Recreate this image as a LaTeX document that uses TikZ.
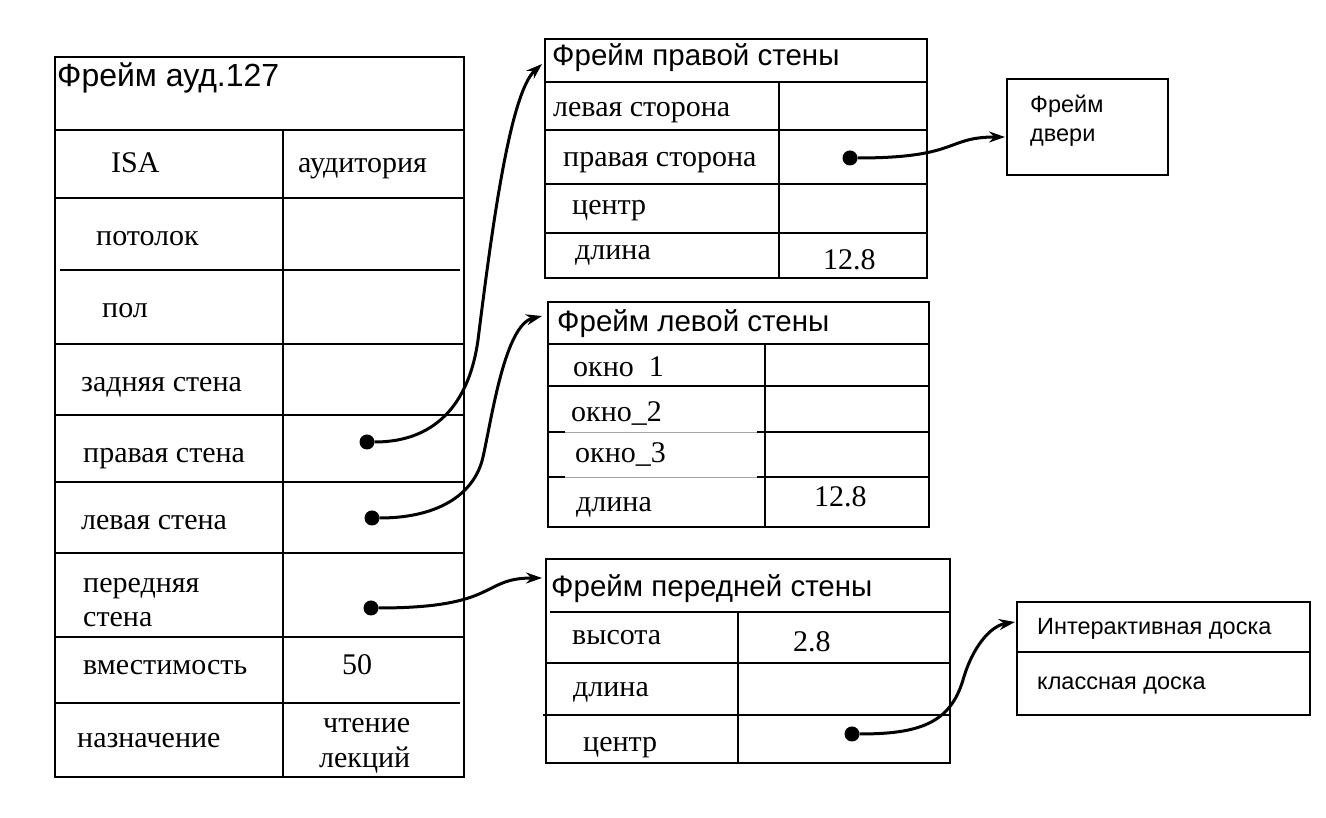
\documentclass[tikz,border=0pt]{standalone}
\usepackage{fontspec}
\setmainfont{Liberation Serif}
\setsansfont{Liberation Sans}
\usepackage{tikz}
\usetikzlibrary{arrows.meta}

\begin{document}
\begin{tikzpicture}[x=1pt,y=1pt]
            \pgfmathsetmacro{\hh}{818}
            \tikzstyle{tableLine}=[line width=2.2pt]
            \tikzstyle{thinLine}=[line width=0.8pt, gray!70]
            \tikzstyle{slot}=[anchor=base west, inner sep=0pt, font=\fontsize{30}{34}\selectfont]
            \tikzstyle{head}=[anchor=base west, inner sep=0pt, font=\sffamily\fontsize{29.5}{34}\selectfont]
            \tikzstyle{note}=[anchor=base west, inner sep=0pt, font=\sffamily\fontsize{23.5}{27}\selectfont]
            \tikzstyle{slotDot}=[circle, fill, inner sep=0pt, minimum size=15pt]
            \tikzstyle{link}=[line width=3pt, -{Stealth[length=16pt,width=11pt]}]

            \useasboundingbox (0,0) rectangle (1326,\hh);

            %%%%%%%%%%%%%%%%%%%%%%%%%%%%%%%%%%%%%%%%
            % frame of the room
            \draw[tableLine] (55,\hh-57) rectangle (464,\hh-777);
            \draw[tableLine] (55,\hh-130) -- (464,\hh-130);
            \draw[tableLine] (283,\hh-130) -- (283,\hh-777);
            \foreach \y in {198,344,415,482,553,637}
                \draw[tableLine] (55,\hh-\y) -- (464,\hh-\y);
            \draw[tableLine] (60,\hh-270) -- (460,\hh-270);
            \draw[tableLine] (54,\hh-703) -- (460,\hh-703);

            \node (audTitle) [head, font=\sffamily\fontsize{32}{36}\selectfont] at (57,\hh-87) {Фрейм ауд.127};
            \node (audIsa) [slot] at (111,\hh-173) {ISA};
            \node (audIsaVal) [slot] at (298,\hh-173) {аудитория};
            \node (audCeil) [slot] at (96,\hh-246) {потолок};
            \node (audFloor) [slot] at (102,\hh-318) {пол};
            \node (audBack) [slot] at (81,\hh-392) {задняя стена};
            \node (audRight) [slot] at (83,\hh-463) {правая стена};
            \node (audLeft) [slot] at (81,\hh-530) {левая стена};
            \node (audFront) [slot] at (83,\hh-593) {передняя};
            \node (audFront2) [slot] at (83,\hh-627) {стена};
            \node (audSeats) [slot] at (83,\hh-675) {вместимость};
            \node (audSeatsVal) [slot] at (342,\hh-675) {50};
            \node (audUse) [slot] at (77,\hh-748) {назначение};
            \node (audUseVal) [slot] at (323,\hh-733) {чтение};
            \node (audUseVal2) [slot] at (319,\hh-768) {лекций};

            \node (dotRight) [slotDot] at (367,\hh-442) {};
            \node (dotLeft) [slotDot] at (372,\hh-518) {};
            \node (dotFront) [slotDot] at (371,\hh-608) {};

            %%%%%%%%%%%%%%%%%%%%%%%%%%%%%%%%%%%%%%%%
            % frame of the right wall
            \draw[tableLine] (545,\hh-39) rectangle (927,\hh-278);
            \foreach \y in {82,130,184,233}
                \draw[tableLine] (545,\hh-\y) -- (927,\hh-\y);
            \draw[tableLine] (779,\hh-82) -- (779,\hh-278);

            \node (rightTitle) [head] at (552,\hh-66) {Фрейм правой стены};
            \node (rightLside) [slot] at (553,\hh-117) {левая сторона};
            \node (rightRside) [slot] at (563,\hh-167) {правая сторона};
            \node (rightCenter) [slot] at (572,\hh-215) {центр};
            \node (rightLen) [slot] at (575,\hh-260) {длина};
            \node (rightLenVal) [slot] at (823,\hh-270) {12.8};
            \node (dotDoor) [slotDot] at (850,\hh-158) {};
            \coordinate (rightIn) at (542,\hh-64);

            % door
            \draw[tableLine] (1007,\hh-79) rectangle (1168,\hh-175);
            \node (doorA) [note] at (1030,\hh-113) {Фрейм};
            \node (doorB) [note] at (1030,\hh-142) {двери};
            \coordinate (doorIn) at (1005,\hh-137);

            %%%%%%%%%%%%%%%%%%%%%%%%%%%%%%%%%%%%%%%%
            % frame of the left wall
            \draw[tableLine] (548,\hh-302) rectangle (929,\hh-527);
            \foreach \y in {344,386}
                \draw[tableLine] (548,\hh-\y) -- (929,\hh-\y);
            \foreach \y in {432,477}{
                \draw[tableLine] (548,\hh-\y) -- (565,\hh-\y);
                \draw[thinLine] (565,\hh-\y) -- (757,\hh-\y);
                \draw[tableLine] (757,\hh-\y) -- (929,\hh-\y);
            }
            \draw[tableLine] (765,\hh-344) -- (765,\hh-527);

            \node (leftTitle) [head] at (557,\hh-332) {Фрейм левой стены};
            \node (leftWin1) [slot] at (573,\hh-377) {окно\ \ 1};
            \node (leftWin2) [slot] at (571,\hh-422) {окно\_2};
            \node (leftWin3) [slot] at (575,\hh-463) {окно\_3};
            \node (leftLen) [slot] at (576,\hh-512) {длина};
            \node (leftLenVal) [slot] at (814,\hh-507) {12.8};
            \coordinate (leftIn) at (542,\hh-316);

            %%%%%%%%%%%%%%%%%%%%%%%%%%%%%%%%%%%%%%%%
            % frame of the front wall
            \draw[tableLine] (546,\hh-559) rectangle (950,\hh-763);
            \draw[tableLine] (550,\hh-612) -- (950,\hh-612);
            \draw[tableLine] (546,\hh-663) -- (950,\hh-663);
            \draw[tableLine] (543,\hh-715) -- (950,\hh-715);
            \draw[tableLine] (738,\hh-612) -- (738,\hh-763);

            \node (frontTitle) [head] at (551,\hh-597) {Фрейм передней стены};
            \node (frontHigh) [slot] at (572,\hh-645) {высота};
            \node (frontHighVal) [slot] at (793,\hh-652) {2.8};
            \node (frontLen) [slot] at (573,\hh-697) {длина};
            \node (frontCenter) [slot] at (583,\hh-752) {центр};
            \node (dotBoard) [slotDot] at (852,\hh-734) {};
            \coordinate (frontIn) at (542,\hh-578);

            % boards
            \draw[tableLine] (1017,\hh-602) rectangle (1310,\hh-715);
            \draw[tableLine] (1017,\hh-652) -- (1310,\hh-652);
            \node (boardA) [note] at (1037,\hh-635) {Интерактивная доска};
            \node (boardB) [note] at (1037,\hh-690) {классная доска};
            \coordinate (boardIn) at (1015,\hh-622);

            %%%%%%%%%%%%%%%%%%%%%%%%%%%%%%%%%%%%%%%%
            % links
            \draw[link] (dotRight) .. controls (440,\hh-442) and (470,\hh-398) .. (478,\hh-340)
                .. controls (492,\hh-228) and (510,\hh-93) .. (rightIn);
            \draw[link] (dotLeft) .. controls (440,\hh-518) and (475,\hh-493) .. (483,\hh-457)
                .. controls (492,\hh-417) and (505,\hh-325) .. (leftIn);
            \draw[link] (dotFront) .. controls (500,\hh-608) and (480,\hh-578) .. (frontIn);
            \draw[link] (dotDoor) .. controls (960,\hh-158) and (945,\hh-137) .. (doorIn);
            \draw[link] (dotBoard) .. controls (920,\hh-734) and (950,\hh-723) .. (963,\hh-680)
                .. controls (972,\hh-648) and (990,\hh-626) .. (boardIn);
\end{tikzpicture}
\end{document}
